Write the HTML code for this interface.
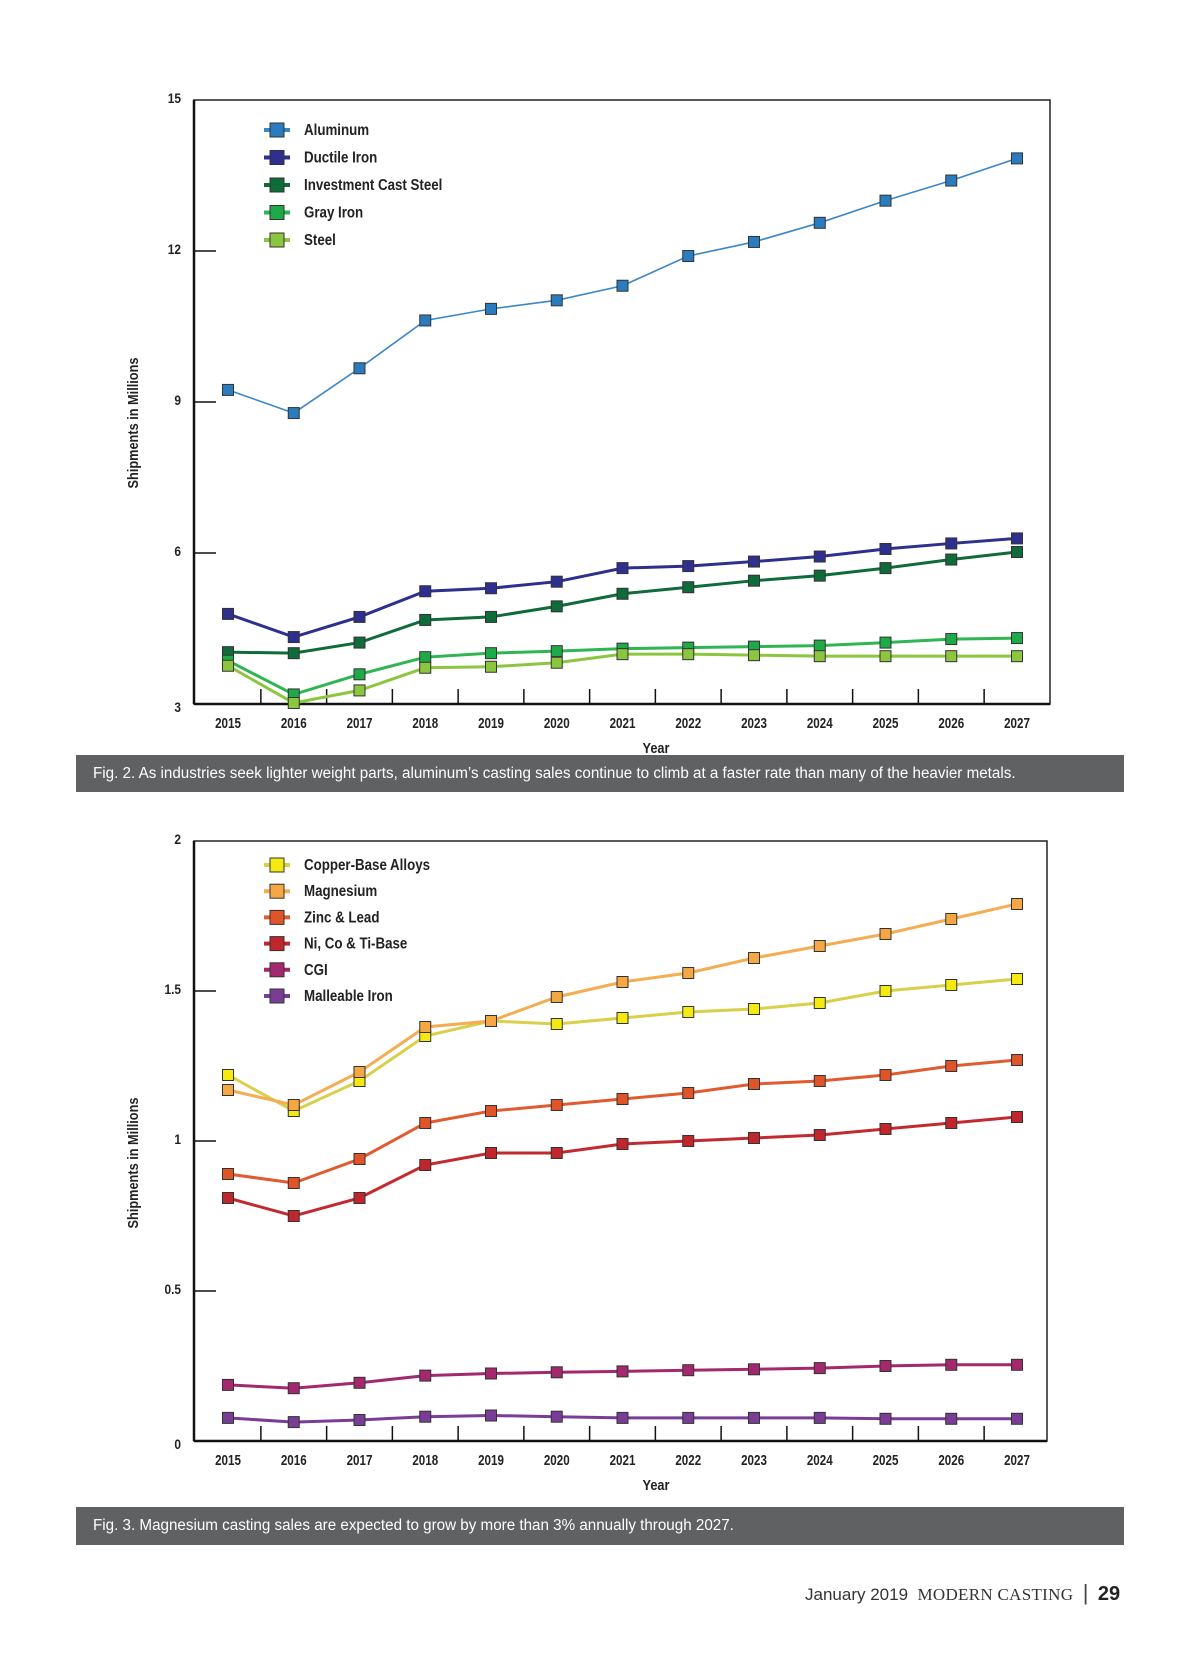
<!DOCTYPE html>
<html><head><meta charset="utf-8"><style>
body{margin:0;background:#fff;width:1200px;height:1657px;overflow:hidden;font-family:"Liberation Sans Narrow","Liberation Sans",sans-serif}
svg{position:absolute;left:0;top:0}
.cap{position:absolute;left:76px;width:1048px;background:#5f6163;color:#fff;font-size:15.5px;font-family:"Liberation Sans Narrow","Liberation Sans",sans-serif;box-sizing:border-box;padding-left:17px;display:flex;align-items:center}
.cap span{display:inline-block;transform:scaleX(0.98);transform-origin:left center;white-space:nowrap}
.foot{position:absolute;left:805px;top:1580px;font-size:17px;color:#333;white-space:nowrap}
</style></head><body>
<svg id="chart" width="1200" height="1657"></svg>
<div class="cap" style="top:755px;height:37px"><span>Fig. 2. As industries seek lighter weight parts, aluminum’s casting sales continue to climb at a faster rate than many of the heavier metals.</span></div>
<div class="cap" style="top:1507px;height:38px"><span>Fig. 3. Magnesium casting sales are expected to grow by more than 3% annually through 2027.</span></div>
<div class="foot"><span style="font-family:'Liberation Sans',sans-serif">January 2019</span>&nbsp;&nbsp;<span style="font-family:'Liberation Serif',serif;letter-spacing:0.3px">MODERN CASTING</span>&nbsp;&nbsp;<span style="font-size:22px;font-weight:100;color:#444">|</span>&nbsp;&nbsp;<b style="font-family:'Liberation Sans',sans-serif;font-size:20px;color:#222">29</b></div>
<script>
const years=["2015","2016","2017","2018","2019","2020","2021","2022","2023","2024","2025","2026","2027"];
const topNames=["Aluminum","Ductile Iron","Investment Cast Steel","Gray Iron","Steel"];
const aluminum=[9.24,8.78,9.67,10.62,10.85,11.02,11.31,11.9,12.18,12.56,13.0,13.4,13.84];
const ductile=[4.79,4.33,4.73,5.24,5.30,5.43,5.70,5.74,5.83,5.93,6.08,6.19,6.29];
const investment=[4.03,4.01,4.22,4.67,4.73,4.94,5.19,5.32,5.45,5.55,5.70,5.87,6.02];
const grayIron=[3.86,3.19,3.59,3.93,4.01,4.05,4.10,4.12,4.14,4.16,4.22,4.29,4.31];
const steel=[3.76,3.02,3.27,3.72,3.74,3.82,3.99,3.99,3.97,3.95,3.95,3.95,3.95];
const topTicks=[3,6,9,12,15];
const botNames=["Copper-Base Alloys","Magnesium","Zinc & Lead","Ni, Co & Ti-Base","CGI","Malleable Iron"];
const copper=[1.22,1.10,1.20,1.35,1.40,1.39,1.41,1.43,1.44,1.46,1.50,1.52,1.54];
const magnesium=[1.17,1.12,1.23,1.38,1.40,1.48,1.53,1.56,1.61,1.65,1.69,1.74,1.79];
const zinc=[0.89,0.86,0.94,1.06,1.10,1.12,1.14,1.16,1.19,1.20,1.22,1.25,1.27];
const nickel=[0.81,0.75,0.81,0.92,0.96,0.96,0.99,1.00,1.01,1.02,1.04,1.06,1.08];
const cgi=[0.187,0.176,0.194,0.218,0.225,0.229,0.232,0.236,0.239,0.243,0.25,0.254,0.254];
const malleable=[0.077,0.063,0.07,0.081,0.085,0.081,0.077,0.077,0.077,0.077,0.074,0.074,0.074];
const botTicks=["0","0.5","1","1.5","2"];

const NS="http://www.w3.org/2000/svg";
const svg=document.getElementById('chart');
function mk(tag,at,txt){const e=document.createElementNS(NS,tag);for(const k in at)e.setAttribute(k,at[k]);if(txt!==undefined)e.textContent=txt;svg.appendChild(e);return e;}
function ntext(x,y,anchor,size,txt,sx){return mk('text',{x:0,y:0,'text-anchor':anchor,'font-size':size,'font-weight':'bold',fill:'#222',transform:`translate(${x} ${y}) scale(${sx} 1)`},txt);}

function drawChart(cfg){
  const {L,R,T,B,ymin,ymax,ticks,series,names,cols,lineCols,legY,legStep,prefix,yTitleY}=cfg;
  const x=i=>228+i*(1017-228)/(years.length-1);
  const y=v=>B-(v-ymin)/(ymax-ymin)*(B-T);
  let e=mk('rect',{x:L,y:T,width:R-L,height:B-T,fill:'none',stroke:'#222','stroke-width':1.5});
  
  e=mk('line',{x1:L,y1:T,x2:L,y2:B,stroke:'#111','stroke-width':2.5});
  
  e=mk('line',{x1:L,y1:B,x2:R,y2:B,stroke:'#111','stroke-width':2.5});
  
  ticks.forEach(t=>{const v=parseFloat(t);const yy=y(v);
    if(v>ymin&&v<ymax){e=mk('line',{x1:L,y1:yy,x2:L+22,y2:yy,stroke:'#111','stroke-width':1.5});
    }
    e=ntext(181,yy+(v==ymin?8:3),'end',14,t,0.85);
    });
  years.forEach((yr,i)=>{
    if(i<years.length-1){e=mk('line',{x1:x(i+0.5),y1:B,x2:x(i+0.5),y2:B-15,stroke:'#111','stroke-width':1.5});
    }
    e=ntext(x(i),B+24,'middle',14.5,yr,0.8);
    });
  e=ntext(656,B+49,'middle',15,'Year',0.85);
  
  e=mk('text',{x:0,y:0,'text-anchor':'middle','font-size':15,'font-weight':'bold',fill:'#222',transform:`translate(138 ${yTitleY}) rotate(-90) scale(0.85 1)`},'Shipments in Millions');
  
  series.forEach((s,k)=>{
    e=mk('polyline',{points:s.map((v,i)=>x(i)+','+y(v)).join(' '),fill:'none',stroke:lineCols[k],'stroke-width':k==0&&prefix=='fig2'?1.6:3});
    
    s.forEach((v,i)=>{e=mk('rect',{x:x(i)-5.5,y:y(v)-5.5,width:11,height:11,fill:cols[k],stroke:'#333','stroke-width':1});
      });
  });
  names.forEach((n,k)=>{const yy=legY+k*legStep;
    e=mk('line',{x1:264,y1:yy,x2:290,y2:yy,stroke:lineCols[k],'stroke-width':4});
    
    e=mk('rect',{x:270,y:yy-7,width:14,height:14,fill:cols[k],stroke:'#333','stroke-width':1});
    
    e=ntext(304,yy+5,'start',15.5,n,0.86);
    });
}
drawChart({L:194,R:1050,T:100,B:704,ymin:3,ymax:15,ticks:topTicks.map(String),series:[aluminum,ductile,investment,grayIron,steel],names:topNames,
 cols:['#2b7bbf','#2e2f8e','#0f6b3a','#1faa4a','#8cc63f'],lineCols:['#3a86c8','#2e2f8e','#0f6b3a','#2fb552','#8cc63f'],legY:130,legStep:27.5,prefix:'fig2',yTitleY:423});
drawChart({L:194,R:1047,T:841,B:1441,ymin:0,ymax:2,ticks:botTicks,series:[copper,magnesium,zinc,nickel,cgi,malleable],names:botNames,
 cols:['#f5ea10','#f4a742','#e0542a','#c0272d','#a3286e','#7a3d96'],lineCols:['#d9cf4a','#f4ad52','#e25a30','#c32a30','#a3286e','#7a3d96'],legY:865,legStep:26.2,prefix:'fig3',yTitleY:1163});
</script>
</body></html>
